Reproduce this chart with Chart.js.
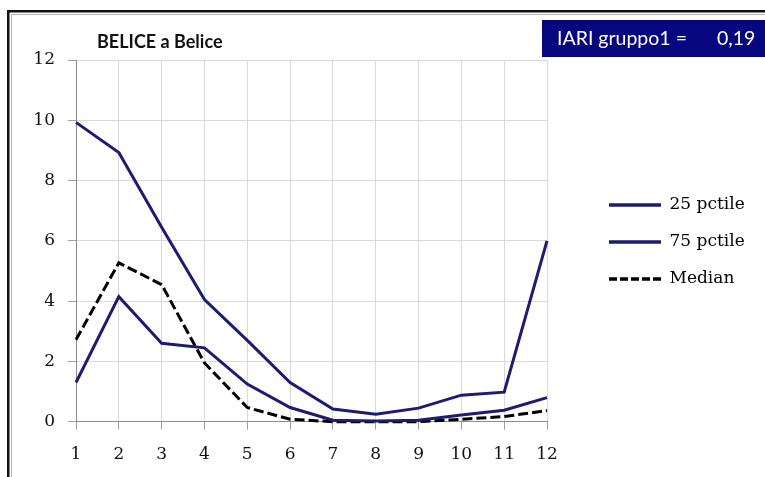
<!DOCTYPE html>
<html><head><meta charset="utf-8">
<script src="https://cdn.jsdelivr.net/npm/chart.js@4.4.1/dist/chart.umd.min.js"></script>
<style>html,body{margin:0;padding:0;background:#fff;}canvas{display:block;}</style>
</head><body>
<canvas id="c" width="765" height="477"></canvas>
<script>
const months = ['1','2','3','4','5','6','7','8','9','10','11','12'];
const p25 = [1.3, 4.15, 2.6, 2.45, 1.25, 0.47, 0.05, 0.02, 0.05, 0.22, 0.38, 0.8];
const p75 = [9.93, 8.93, 6.45, 4.05, 2.7, 1.3, 0.42, 0.25, 0.45, 0.88, 0.98, 6.0];
const median = [2.72, 5.27, 4.55, 1.95, 0.47, 0.08, 0.0, 0.0, 0.0, 0.08, 0.17, 0.37];
const yTicks = [0, 2, 4, 6, 8, 10, 12];
const seriesNames = ['25 pctile', '75 pctile', 'Median'];
const chartTitle = 'BELICE a Belice';
const indexLabel = 'IARI gruppo1 =';
const indexValue = '0,19';

const NAVY = '#1c1c70';
const SERIF = '"DejaVu Serif", "Liberation Serif", serif';

const decor = {
  id: 'decor',
  beforeDraw(chart) {
    const ctx = chart.ctx;
    ctx.save();
    ctx.fillStyle = '#fff';
    ctx.fillRect(0, 0, chart.width, chart.height);
    ctx.fillStyle = '#111';
    ctx.fillRect(7, 10, chart.width - 7, 2.5);
    ctx.fillRect(7, 10, 2.5, chart.height - 10);
    ctx.fillStyle = '#b5b5b5';
    ctx.fillRect(11, 14, chart.width - 11, 1);
    ctx.fillRect(11, 14, 1, chart.height - 14);
    ctx.fillStyle = '#111';
    ctx.font = 'bold 18px Lato, "Open Sans", sans-serif';
    ctx.textBaseline = 'middle';
    ctx.textAlign = 'left';
    ctx.fillText(chartTitle, 97, 42);
    ctx.restore();
  },
  afterDraw(chart) {
    const ctx = chart.ctx;
    ctx.save();
    ctx.fillStyle = '#06067e';
    ctx.fillRect(542, 20, chart.width - 542, 37);
    ctx.fillStyle = '#ffffff';
    ctx.font = '19.5px Lato, "Open Sans", sans-serif';
    ctx.textBaseline = 'middle';
    ctx.textAlign = 'left';
    ctx.fillText(indexLabel, 557, 39);
    ctx.fillText(indexValue, 717, 39);
    ctx.restore();
  }
};

const legendShift = {
  id: 'legendShift',
  afterLayout(chart) {
    const lg = chart.legend;
    if (!lg || !lg.columnSizes || !lg.columnSizes.length) return;
    const p = lg.options.labels.padding;
    const fs = lg.options.labels.font.size;
    const dx = 609 - (lg.left + p);
    lg.left += dx;
    lg.right = chart.width;
    lg.width = lg.right - lg.left;
    const colH = lg.columnSizes[0].height;
    const cur = (lg.top + p + lg.bottom - colH) / 2;
    const dy = (205 - fs / 2) - cur;
    lg.top += dy; lg.bottom += dy;
    lg.height = lg.bottom - lg.top;
  }
};

new Chart(document.getElementById('c'), {
  type: 'line',
  data: {
    labels: months,
    datasets: [
      { label: seriesNames[0], data: p25, borderColor: NAVY, backgroundColor: NAVY, borderWidth: 3, pointRadius: 0, tension: 0, clip: false },
      { label: seriesNames[1], data: p75, borderColor: NAVY, backgroundColor: NAVY, borderWidth: 3, pointRadius: 0, tension: 0, clip: false },
      { label: seriesNames[2], data: median, borderColor: '#000', backgroundColor: '#000', borderWidth: 3, borderDash: [10, 4], pointRadius: 0, tension: 0, clip: false }
    ]
  },
  options: {
    responsive: false,
    animation: false,
    layout: { padding: { top: 60, right: 58, bottom: 0, left: 0 } },
    plugins: {
      title: { display: false },
      tooltip: { enabled: false },
      legend: {
        position: 'right',
        maxWidth: 160,
        labels: {
          usePointStyle: true,
          pointStyle: 'line',
          pointStyleWidth: 52,
          padding: 20,
          color: '#000',
          font: { family: SERIF, size: 17 },
          generateLabels(chart) {
            const items = Chart.defaults.plugins.legend.labels.generateLabels(chart);
            items.forEach(it => {
              const ds = chart.data.datasets[it.datasetIndex];
              it.lineDash = ds.borderDash ? [8, 3] : [];
              it.lineWidth = 3.5;
              it.strokeStyle = ds.borderColor;
              it.fillStyle = ds.borderColor;
              it.pointStyle = 'line';
            });
            return items;
          }
        }
      }
    },
    scales: {
      x: {
        offset: false,
        grid: { color: '#d9d9d9', tickColor: '#a0a0a0', tickLength: 8, drawTicks: true },
        border: { color: '#8c8c8c', width: 1 },
        ticks: { color: '#111', padding: 15, font: { family: SERIF, size: 17 }, maxRotation: 0, autoSkip: false },
        afterFit(s) { s.height = 477 - 421.7; }
      },
      y: {
        min: 0, max: 12,
        afterBuildTicks(s) { s.ticks = yTicks.map(v => ({ value: v })); },
        grid: { color: '#d9d9d9', tickColor: '#a0a0a0', tickLength: 8 },
        border: { color: '#8c8c8c', width: 1 },
        ticks: { color: '#111', padding: 13, font: { family: SERIF, size: 17 } },
        afterFit(s) { s.width = 76; }
      }
    }
  },
  plugins: [decor, legendShift]
});
</script>
</body></html>
